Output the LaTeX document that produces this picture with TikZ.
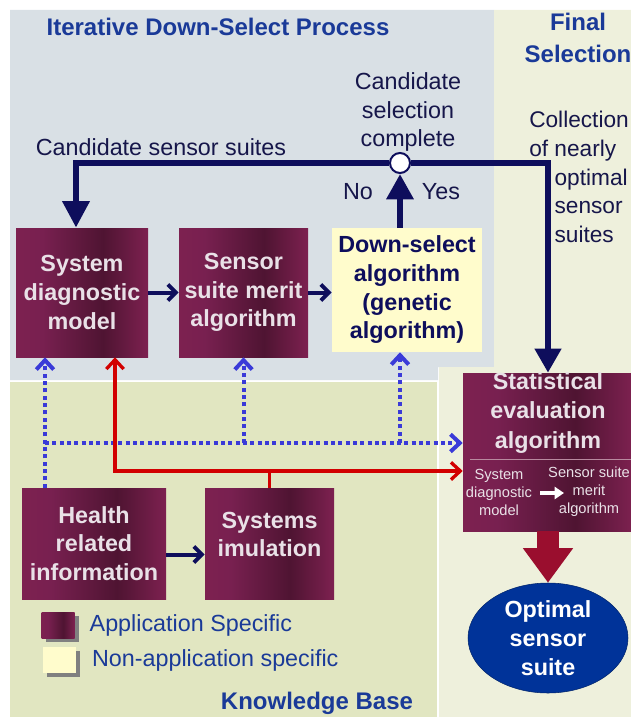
\documentclass[tikz,border=0pt]{standalone}
\usepackage{fontspec}
\setmainfont{Liberation Sans}
\usetikzlibrary{positioning,arrows.meta,shapes.geometric}

\definecolor{greybg}{HTML}{D9E0E5}
\definecolor{finalbg}{HTML}{EEF0DC}
\definecolor{knowbg}{HTML}{E1E6C1}
\definecolor{mlight}{HTML}{7D2150}
\definecolor{mmid}{HTML}{782050}
\definecolor{mdark}{HTML}{4F1432}
\definecolor{boxtext}{HTML}{E9E1E7}
\definecolor{navy}{HTML}{0E0E5C}
\definecolor{labeltext}{HTML}{16164A}
\definecolor{titleblue}{HTML}{1A3A98}
\definecolor{dotblue}{HTML}{3A3AD8}
\definecolor{linkred}{HTML}{D20000}
\definecolor{arrowred}{HTML}{9A0E2E}
\definecolor{optblue}{HTML}{003399}
\definecolor{paleyellow}{HTML}{FFFCCC}
\definecolor{divider}{HTML}{B88A9F}

\pgfdeclarehorizontalshading{maroon}{100bp}{color(0bp)=(mlight); color(25bp)=(mlight); color(35bp)=(mmid); color(58bp)=(mdark); color(75bp)=(mlight); color(100bp)=(mlight)}

\newcommand{\boxfont}{\fontsize{17.5}{21.5}\selectfont\bfseries}
\newcommand{\titlefont}{\fontsize{18}{24}\selectfont\bfseries}
\newcommand{\labelfont}{\fontsize{17.5}{21.5}\selectfont}
\newcommand{\subfont}{\fontsize{11}{13.5}\selectfont}

\begin{document}
\begin{tikzpicture}[x=0.75pt,y=-0.75pt,
	appbox/.style={rectangle,shading=maroon,text=boxtext,font=\boxfont,align=center,inner sep=0pt},
	genbox/.style={rectangle,fill=paleyellow,text=navy,font=\boxfont,align=center,inner sep=0pt},
	shadowbox/.style={rectangle,fill=black!50,minimum width=24.75pt,minimum height=19.5pt,inner sep=0pt},
	boxlabel/.style={text=boxtext,font=\boxfont,align=center,inner sep=0pt},
	subtext/.style={text=boxtext,font=\subfont,align=center,inner sep=0pt},
	labeltext/.style={text=labeltext,font=\labelfont,inner sep=0pt},
	titletext/.style={text=titleblue,font=\titlefont,inner sep=0pt},
	legendtext/.style={text=titleblue,font=\labelfont,inner sep=0pt},
	optnode/.style={ellipse,fill=optblue,draw=optblue!70!black,text=white,font=\boxfont,align=center,minimum width=120pt,minimum height=82.5pt,inner sep=0pt},
	junction/.style={circle,fill=white,draw=navy,line width=1.5pt,minimum size=15pt,inner sep=0pt},
	navyline/.style={draw=navy,line width=5pt},
	boxarrow/.style={draw=navy,line width=3pt,-{Straight Barb[length=6pt,width=12pt]}},
	dotarrow/.style={draw=dotblue,line width=3pt,dash pattern=on 3pt off 2.5pt},
	redline/.style={draw=linkred,line width=2.5pt},
	heavyarrow/.style={draw=arrowred,line width=16pt,-{Triangle[width=36pt,length=26pt]}}]

	\clip (0,0) rectangle (631,717);
	\useasboundingbox (0,0) rectangle (631,717);

	%regions
	\fill[greybg] (10,10) -- (494,10) -- (494,367) -- (438,367) -- (438,380) -- (10,380) -- cycle;
	\fill[finalbg] (494,10) -- (631,10) -- (631,717) -- (439,717) -- (439,367) -- (494,367) -- cycle;
	\fill[knowbg] (10,382) rectangle (437,717);

	%titles
	\node[titletext] (proctitle) at (218,27) {Iterative Down-Select Process};
	\node[titletext,align=center] (finaltitle) at (578,38) {Final\\Selection};
	\node[titletext] (kbtitle) at (317,703) {Knowledge Base};

	%process boxes
	\node[appbox,minimum width=99pt,minimum height=96.75pt] (sysdiag) at (82,292.5) {System\\diagnostic\\model};
	\node[appbox,minimum width=96.75pt,minimum height=96.75pt] (merit) at (243.5,292.5) {Sensor\\suite merit\\algorithm};
	\node[genbox,minimum width=112.5pt,minimum height=93pt] (downsel) at (407,290) {Down-select\\algorithm\\(genetic\\algorithm)};

	%final selection
	\node[appbox,minimum width=127.5pt,minimum height=118.5pt] (stat) at (548,452) {};
	\node[boxlabel,font=\fontsize{17.5}{22}\selectfont\bfseries] (stattext) at (548,413) {Statistical\\evaluation\\algorithm};
	\draw[divider,line width=0.75pt] (470,459) -- (stat.east |- 0,459);
	\node[subtext] (statsub1) at (499,492) {System\\diagnostic\\model};
	\node[subtext] (statsub2) at (589,492) {Sensor suite\\merit\\algorithm};
	\coordinate (wa1) at (540,493);
	\coordinate (wa2) at (564,493);
	\draw[white,line width=3pt,-{Triangle[width=9pt,length=7pt]}] (wa1) -- (wa2);
	\node[optnode] (optimal) at (548,638) {Optimal\\sensor\\suite};

	%knowledge base
	\node[appbox,minimum width=108pt,minimum height=83.25pt] (health) at (94,543.5) {Health\\related\\information};
	\node[appbox,minimum width=96.75pt,minimum height=83.25pt] (sim) at (269.5,543.5) {Systems\\imulation\\[-8pt]\mbox{}};

	%legend
	\node[shadowbox] (legappshadow) at (62,629) {};
	\node[appbox,minimum width=24.75pt,minimum height=19.5pt] (legapp) at (58,625) {};
	\node[shadowbox] (leggenshadow) at (63,664) {};
	\node[genbox,minimum width=24.75pt,minimum height=19.5pt] (leggen) at (59,660) {};
	\node[legendtext,right=11pt of legapp] (legapptext) {Application Specific};
	\node[legendtext,right=12pt of leggen] (leggentext) {Non-application specific};

	%labels
	\node[labeltext] (candsuites) at (161,147) {Candidate sensor suites};
	\node[labeltext,align=center] (candcomplete) at (408,112) {Candidate\\selection\\complete};
	\node[labeltext] (nolabel) at (358,192) {No};
	\node[labeltext] (yeslabel) at (441,192) {Yes};
	\node[labeltext,font=\fontsize{17}{21.5}\selectfont,align=left,anchor=west] (collection) at (529,177) {Collection\\of nearly\\\hspace*{19pt}optimal\\\hspace*{19pt}sensor\\\hspace*{19pt}suites};

	%loop edges
	\node[junction] (junc) at (400,163) {};
	\coordinate (loopleft) at (76,163);
	\draw[navyline,-{Triangle[width=19.5pt,length=20pt]}] (junc.west) -- (loopleft) -- (loopleft |- sysdiag.north);
	\draw[navyline,-{Triangle[width=19pt,length=18pt]}] (junc.east) -| (stat.north);
	\draw[navyline,-{Triangle[width=19.5pt,length=19pt]}] (junc |- downsel.north) -- (junc.south);
	\draw[boxarrow] (sysdiag.east) -- (merit.west);
	\draw[boxarrow] (merit.east) -- (merit.east -| downsel.west);
	\draw[boxarrow] ([yshift=-8.25pt]health.east) -- ([yshift=-8.25pt]sim.west);

	%data edges
	\coordinate (bus) at (45,443);
	\draw[dotarrow,-{Straight Barb[length=7pt,width=13pt]}] (health.north -| bus) -- (sysdiag.south -| bus);
	\draw[dotarrow,-{Straight Barb[length=7pt,width=13pt]}] (bus) -- (stat.west |- bus);
	\draw[dotarrow,-{Straight Barb[length=7pt,width=13pt]}] (merit.south |- bus) -- (merit.south);
	\draw[dotarrow,-{Straight Barb[length=7pt,width=13pt]}] (junc |- bus) -- (junc |- downsel.south);
	\coordinate (redbus) at (115,471);
	\draw[redline] (sim.north) -- (sim.north |- redbus);
	\draw[redline,{Straight Barb[length=7pt,width=13pt]}-{Straight Barb[length=7pt,width=13pt]}] (redbus |- sysdiag.south) -- (redbus) -- (redbus -| stat.west);
	\draw[heavyarrow] (stat.south) -- (optimal.north);
\end{tikzpicture}
\end{document}
